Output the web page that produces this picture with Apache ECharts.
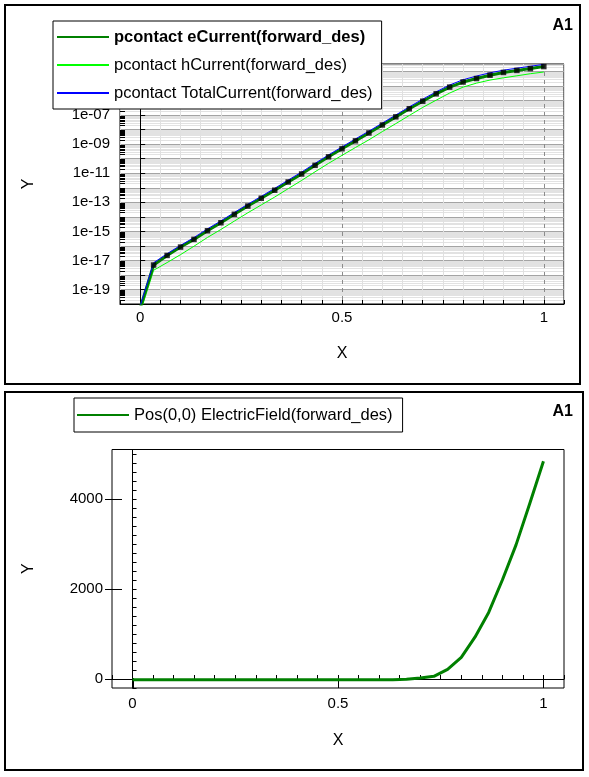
<!DOCTYPE html>
<html>
<head>
<meta charset="utf-8">
<script src="https://cdn.jsdelivr.net/npm/echarts@6/dist/echarts.min.js"></script>
<style>
  html, body { margin: 0; padding: 0; background: #fff; }
  #main { width: 589px; height: 777px; }
</style>
</head>
<body>
<div id="main"></div>
<script>
// sweep points (x = 0 .. 1, 31 steps)
const xVals = [0, 0.0333, 0.0667, 0.1, 0.1333, 0.1667, 0.2, 0.2333, 0.2667, 0.3, 0.3333,
  0.3667, 0.4, 0.4333, 0.4667, 0.5, 0.5333, 0.5667, 0.6, 0.6333, 0.6667,
  0.7, 0.7333, 0.7667, 0.8, 0.8333, 0.8667, 0.9, 0.9333, 0.9667, 1]

// currents at pcontact (A)
const eCurrent = [5.0e-21, 4.8e-18, 2.2e-17, 8.3e-17, 2.8e-16, 1.1e-15, 3.9e-15, 1.5e-14, 5.5e-14, 1.9e-13, 6.8e-13,
  2.5e-12, 8.9e-12, 3.5e-11, 1.35e-10, 4.8e-10, 1.7e-9, 5.9e-9, 2.1e-8, 7.6e-8, 2.75e-7,
  9.1e-7, 2.95e-6, 8.5e-6, 1.9e-5, 3.3e-5, 5.6e-5, 8.7e-5, 1.2e-4, 1.6e-4, 2.2e-4]
const hCurrent = [2.5e-21, 2.1e-18, 7.1e-18, 2.5e-17, 9.5e-17, 3.8e-16, 1.35e-15, 5.1e-15, 1.9e-14, 6.6e-14, 2.3e-13,
  8.7e-13, 3.2e-12, 1.26e-11, 4.8e-11, 1.7e-10, 5.9e-10, 2.0e-9, 7.4e-9, 2.6e-8, 9.5e-8,
  3.4e-7, 1.07e-6, 3.3e-6, 8.5e-6, 1.6e-5, 2.6e-5, 3.7e-5, 5.1e-5, 7.1e-5, 9.3e-5]
const totalCurrent = [7.5e-21, 6.9e-18, 2.9e-17, 1.08e-16, 3.75e-16, 1.48e-15, 5.25e-15, 2.0e-14, 7.4e-14, 2.56e-13, 9.1e-13,
  3.37e-12, 1.21e-11, 4.76e-11, 1.83e-10, 6.5e-10, 2.29e-9, 7.9e-9, 2.84e-8, 1.02e-7, 3.7e-7,
  1.25e-6, 4.02e-6, 1.18e-5, 2.75e-5, 4.9e-5, 8.2e-5, 1.24e-4, 1.71e-4, 2.31e-4, 3.13e-4]

// electric field at Pos(0,0)
const field = [-15, -15, -15, -15, -15, -15, -15, -15, -15, -15, -15,
  -15, -15, -15, -15, -15, -15, -15, -15, -15, -8,
  22, 60, 215, 480, 930, 1480, 2200, 2980, 3900, 4840]

const names = ['pcontact eCurrent(forward_des)', 'pcontact hCurrent(forward_des)', 'pcontact TotalCurrent(forward_des)']
const fieldName = 'Pos(0,0) ElectricField(forward_des)'

// decades of the log axis (exponents) and tick marks
const decades = [-20, -19, -18, -17, -16, -15, -14, -13, -12, -11, -10, -9, -8, -7, -6, -5, -4]
const xMajor = [0, 0.5, 1]
const fieldMajor = [0, 2000, 4000]

const FONT = '"Liberation Sans", Arial, sans-serif'
const Y_TOP = -3.48
const CLEAR = 'rgba(0,0,0,0)'

const toExp = arr => arr.map((v, i) => [xVals[i], Math.log10(v)])
const toPts = arr => arr.map((v, i) => [xVals[i], v])

function xLabel(v) {
  const r = Math.round(v * 100)
  return r === 0 ? '0' : r === 50 ? '0.5' : r === 100 ? '1' : ''
}
function expLabel(v) {
  const r = Math.round(v)
  if (Math.abs(v - r) > 1e-6 || r % 2 === 0) return ''
  return '1e-' + String(-r).padStart(2, '0')
}

// light log minor lines (mode 'grid') or short black ticks (mode 'tick') inside each decade
function logMinor(mode) {
  return function (params, api) {
    const n = api.value(1)
    const left = params.coordSys.x
    const right = params.coordSys.x + params.coordSys.width
    const children = []
    for (let k = 2; k <= 9; k++) {
      const v = n + Math.log10(k)
      if (v > Y_TOP) continue
      const y = Math.round(api.coord([0, v])[1]) + 0.5
      if (mode === 'grid') {
        children.push({ type: 'line', shape: { x1: left, y1: y, x2: right, y2: y }, style: { stroke: '#e2e2e2', lineWidth: 1 } })
      } else {
        children.push({ type: 'line', shape: { x1: left, y1: y, x2: left + 5, y2: y }, style: { stroke: '#000', lineWidth: 1 } })
      }
    }
    return { type: 'group', children: children }
  }
}

function xMajorTick(params, api) {
  const p = api.coord([api.value(0), 0])
  const x = Math.round(p[0]) + 0.5
  const bottom = params.coordSys.y + params.coordSys.height
  return { type: 'line', shape: { x1: x, y1: bottom, x2: x, y2: bottom - 10 }, style: { stroke: '#000', lineWidth: 1 } }
}
function yMajorTick(params, api) {
  const p = api.coord([0, api.value(1)])
  const y = Math.round(p[1]) + 0.5
  const left = params.coordSys.x
  return { type: 'line', shape: { x1: left - 7, y1: y, x2: left + 10, y2: y }, style: { stroke: '#000', lineWidth: 1 } }
}

const lightCols = ['#e0e0e0', CLEAR, '#e0e0e0', '#e0e0e0', '#e0e0e0', '#e0e0e0', '#e0e0e0', '#e0e0e0', '#e0e0e0', '#e0e0e0']
const dashCols = [CLEAR, '#8c8c8c', CLEAR, CLEAR, CLEAR, CLEAR, CLEAR, CLEAR, CLEAR, CLEAR]

const axisTxt = { color: '#000', fontSize: 15, fontFamily: FONT }
const nameTxt = { color: '#000', fontSize: 16, fontFamily: FONT }
const legendTxt = { fontSize: 16.5, lineHeight: 18, color: '#000', fontFamily: FONT }

const chart = echarts.init(document.getElementById('main'))
chart.setOption({
  animation: false,
  backgroundColor: '#fff',
  textStyle: { fontFamily: FONT },
  grid: [
    { left: 120, top: 64, width: 444, height: 240, show: true, borderColor: '#000', borderWidth: 1, backgroundColor: CLEAR },
    { left: 112, top: 449.5, width: 452, height: 238.5, show: true, borderColor: '#000', borderWidth: 1, backgroundColor: CLEAR }
  ],
  xAxis: [
    {
      gridIndex: 0, type: 'value', min: -0.05, max: 1.05, interval: 0.05,
      name: 'X', nameLocation: 'middle', nameGap: 42, nameTextStyle: nameTxt,
      axisLine: { lineStyle: { color: '#000' } },
      axisTick: { inside: true, length: 4, lineStyle: { color: '#000' } },
      axisLabel: { formatter: xLabel, margin: 6, ...axisTxt },
      splitLine: { show: true, lineStyle: { color: lightCols, width: 1 } }
    },
    {
      gridIndex: 0, type: 'value', min: -0.05, max: 1.05, interval: 0.05, position: 'top',
      axisLine: { show: false }, axisTick: { show: false }, axisLabel: { show: false },
      splitLine: { show: true, lineStyle: { color: dashCols, width: 1, type: [4, 4] } }
    },
    {
      gridIndex: 1, type: 'value', min: -0.05, max: 1.05, interval: 0.05,
      name: 'X', nameLocation: 'middle', nameGap: 45, nameTextStyle: nameTxt,
      axisLine: { lineStyle: { color: '#000' } },
      axisTick: { inside: true, length: 4, lineStyle: { color: '#000' } },
      axisLabel: { formatter: xLabel, margin: 8, ...axisTxt },
      splitLine: { show: false }
    }
  ],
  yAxis: [
    {
      gridIndex: 0, type: 'value', min: -20, max: Y_TOP, interval: 1,
      name: 'Y', nameLocation: 'middle', nameGap: 83, nameRotate: 90, nameTextStyle: nameTxt,
      axisLine: { lineStyle: { color: '#000' } },
      axisTick: { inside: true, length: 5, lineStyle: { color: '#000' } },
      axisLabel: { formatter: expLabel, margin: 10, ...axisTxt },
      splitLine: { show: true, lineStyle: { color: '#a4a4a4', width: 1 } }
    },
    {
      gridIndex: 1, type: 'value', min: -200, max: 5100, interval: 200,
      name: 'Y', nameLocation: 'middle', nameGap: 75, nameRotate: 90, nameTextStyle: nameTxt,
      axisLine: { lineStyle: { color: '#000' } },
      axisTick: { inside: true, length: 4, lineStyle: { color: '#000' } },
      axisLabel: { formatter: v => (fieldMajor.indexOf(v) >= 0 ? String(v) : ''), margin: 9, ...axisTxt },
      splitLine: { show: false }
    }
  ],
  legend: [
    {
      data: [{ name: names[0], textStyle: { fontWeight: 'bold' } }, names[1], names[2]],
      orient: 'vertical', left: 53, top: 21, padding: [7, 9, 7, 3],
      backgroundColor: '#fff', borderColor: '#000', borderWidth: 1,
      itemWidth: 52, itemHeight: 14, itemGap: 10, selectedMode: false,
      itemStyle: { opacity: 0 },
      textStyle: legendTxt
    },
    {
      data: [fieldName],
      orient: 'vertical', left: 74, top: 398, padding: [8, 10, 8, 2],
      backgroundColor: '#fff', borderColor: '#000', borderWidth: 1,
      itemWidth: 52, itemHeight: 14, selectedMode: false,
      itemStyle: { opacity: 0 },
      textStyle: legendTxt
    }
  ],
  graphic: [
    { type: 'rect', shape: { x: 5, y: 5, width: 575, height: 379 }, style: { fill: 'none', stroke: '#000', lineWidth: 2 } },
    { type: 'rect', shape: { x: 5, y: 392, width: 578, height: 378 }, style: { fill: 'none', stroke: '#000', lineWidth: 2 } },
    { type: 'text', x: 573, y: 26, style: { text: 'A1', align: 'right', verticalAlign: 'middle', font: 'bold 16px ' + FONT, fill: '#000' } },
    { type: 'text', x: 573, y: 412, style: { text: 'A1', align: 'right', verticalAlign: 'middle', font: 'bold 16px ' + FONT, fill: '#000' } }
  ],
  series: [
    {
      type: 'custom', xAxisIndex: 0, yAxisIndex: 0, silent: true, z: -1,
      renderItem: logMinor('grid'), data: decades.map(n => [0, n])
    },
    {
      type: 'custom', xAxisIndex: 0, yAxisIndex: 0, silent: true, z: 3,
      renderItem: logMinor('tick'), data: decades.map(n => [0, n])
    },
    {
      name: names[1], type: 'line', xAxisIndex: 0, yAxisIndex: 0, symbol: 'none',
      data: toExp(hCurrent), lineStyle: { color: '#00ff00', width: 1 }, itemStyle: { color: '#00ff00' }, z: 4
    },
    {
      name: names[0], type: 'line', xAxisIndex: 0, yAxisIndex: 0, symbol: 'none',
      data: toExp(eCurrent), lineStyle: { color: '#008000', width: 3 }, itemStyle: { color: '#008000' }, z: 5
    },
    {
      name: names[2], type: 'line', xAxisIndex: 0, yAxisIndex: 0, symbol: 'none',
      data: toExp(totalCurrent), lineStyle: { color: '#0000ff', width: 1 }, itemStyle: { color: '#0000ff' }, z: 6
    },
    {
      name: 'markers', type: 'scatter', xAxisIndex: 0, yAxisIndex: 0, symbol: 'rect', symbolSize: 5.5,
      data: toExp(eCurrent), itemStyle: { color: '#000' }, z: 7, silent: true
    },
    {
      name: fieldName, type: 'line', xAxisIndex: 2, yAxisIndex: 1, symbol: 'none',
      data: toPts(field), lineStyle: { color: '#008000', width: 3 }, itemStyle: { color: '#008000' }, z: 5
    },
    {
      type: 'custom', xAxisIndex: 2, yAxisIndex: 1, silent: true, z: 3,
      renderItem: xMajorTick, data: xMajor.map(v => [v, 0])
    },
    {
      type: 'custom', xAxisIndex: 2, yAxisIndex: 1, silent: true, z: 3,
      renderItem: yMajorTick, data: fieldMajor.map(v => [0, v])
    }
  ]
})
</script>
</body>
</html>
